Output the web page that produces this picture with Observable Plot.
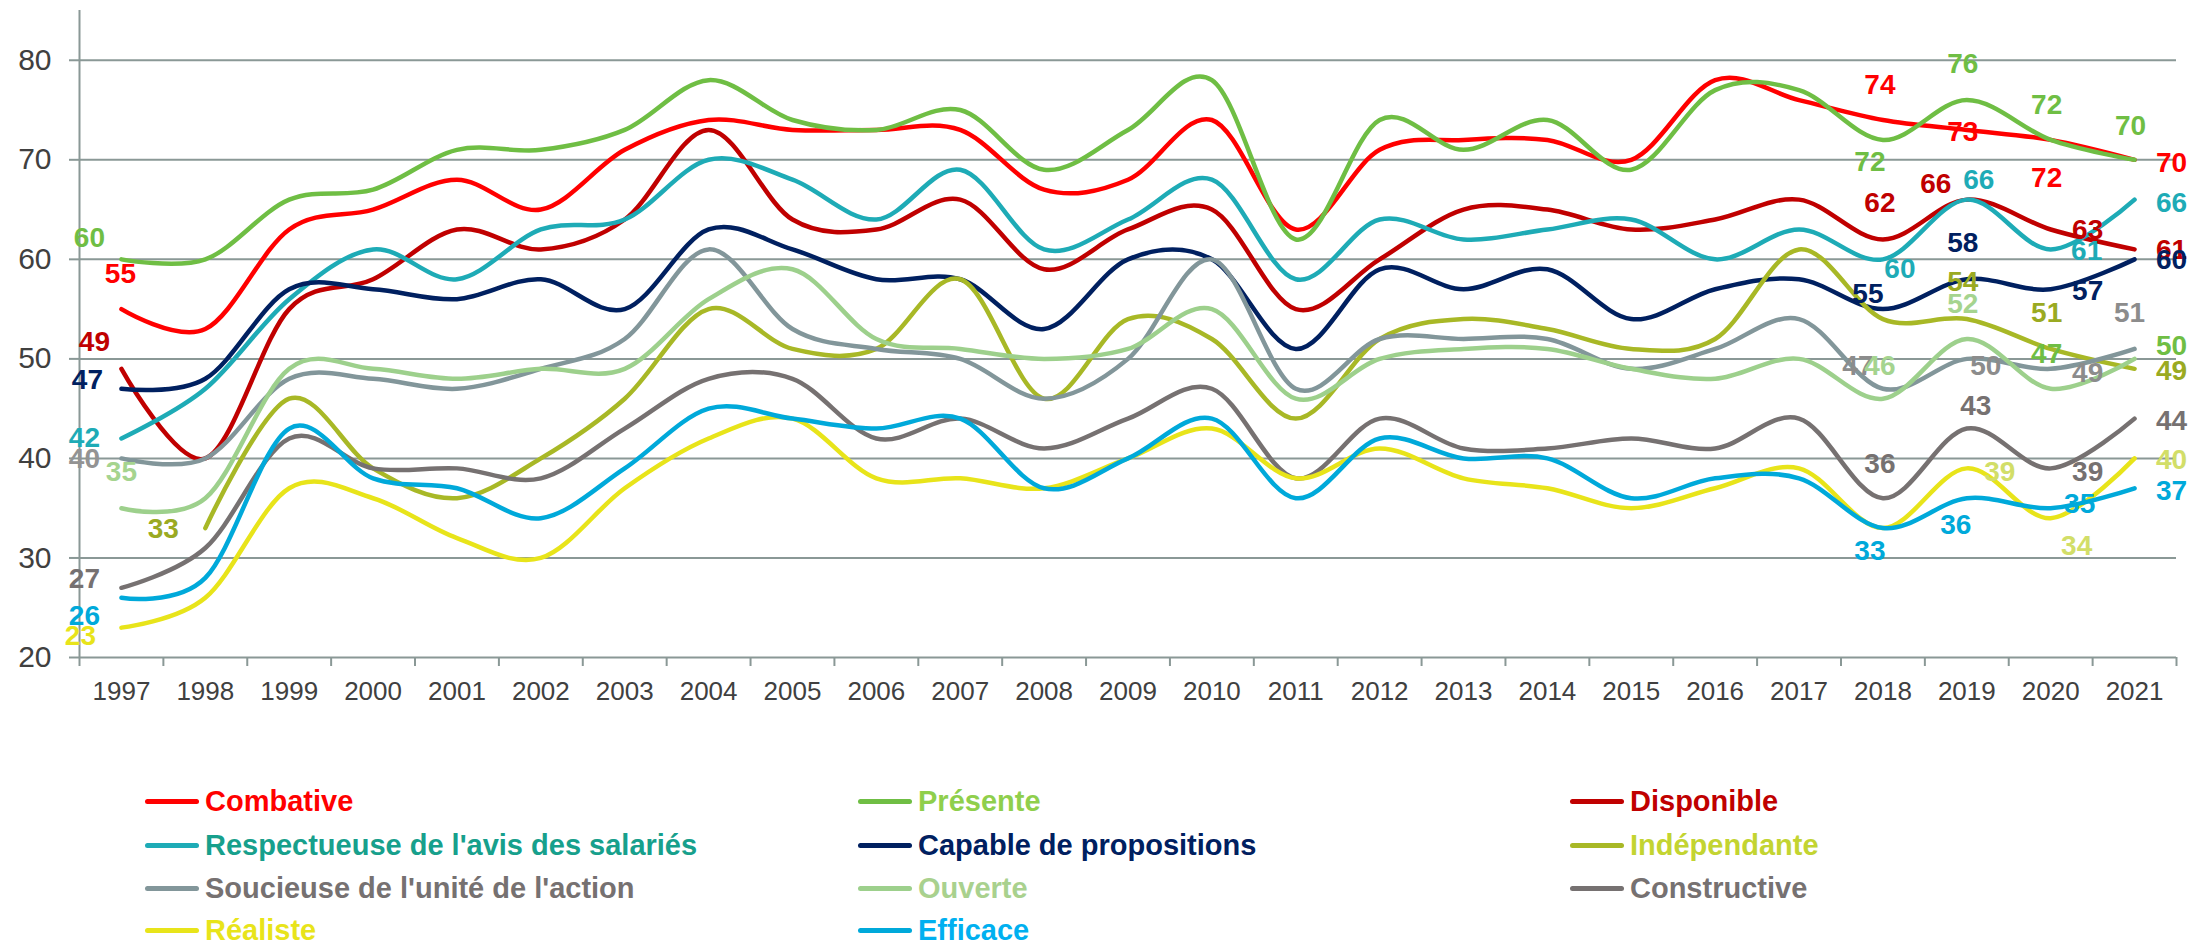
<!DOCTYPE html>
<html>
<head>
<meta charset="utf-8">
<script src="https://cdn.jsdelivr.net/npm/d3@7"></script>
<script src="https://cdn.jsdelivr.net/npm/@observablehq/plot@0.6"></script>
<style>
  html, body { margin: 0; padding: 0; background: #fff; }
  #wrap { position: relative; width: 2192px; height: 943px; font-family: "Liberation Sans", Arial, sans-serif; }
  #legend { position: absolute; left: 0; top: 760px; width: 2192px; height: 183px; }
  .item { position: absolute; height: 42px; display: flex; align-items: center; font-weight: bold; font-size: 29px; white-space: nowrap; }
  .sw { width: 54px; height: 5px; border-radius: 3px; margin-right: 6px; }
</style>
</head>
<body>
<div id="wrap"><div id="chart"></div><div id="legend"></div></div>
<script>
// ---- data ----
const years = d3.range(1997, 2022);
const yTicks = [20, 30, 40, 50, 60, 70, 80];

const Combative    = [55,53,63,65,68,65,71,74,73,73,73,67,68,74,63,71,72,72,70,78,76,74,73,72,70];
const Presente     = [60,60,66,67,71,71,73,78,74,73,75,69,73,78,62,74,71,74,69,77,77,72,76,72,70];
const Disponible   = [49,40,55,58,63,61,64,73,64,63,66,59,63,65,55,60,65,65,63,64,66,62,66,63,61];
const Respectueuse = [42,47,56,61,58,63,64,70,68,64,69,61,64,68,58,64,62,63,64,60,63,60,66,61,66];
const Capable      = [47,48,57,57,56,58,55,63,61,58,58,53,60,60,51,59,57,59,54,57,58,55,58,57,60];
const Independante = [null,33,46,39,36,40,46,55,51,51,58,46,54,52,44,52,54,53,51,52,61,54,54,51,49];
const Soucieuse    = [40,40,48,48,47,49,52,61,53,51,50,46,50,60,47,52,52,52,49,51,54,47,50,49,51];
const Ouverte      = [35,36,49,49,48,49,49,56,59,52,51,50,51,55,46,50,51,51,49,48,50,46,52,47,50];
const Constructive = [27,31,42,39,39,38,43,48,48,42,44,41,44,47,38,44,41,41,42,41,44,36,43,39,44];
const Realiste     = [23,26,37,36,32,30,37,42,44,38,38,37,40,43,38,41,38,37,35,37,39,33,39,34,40];
const Efficace     = [26,28,43,38,37,34,39,45,44,43,44,37,40,44,36,42,40,40,36,38,38,33,36,35,37];

const seriesNames = ["Combative","Présente","Disponible","Respectueuse de l'avis des salariés","Capable de propositions","Indépendante","Soucieuse de l'unité de l'action","Ouverte","Constructive","Réaliste","Efficace"];
const seriesValues = [Combative,Presente,Disponible,Respectueuse,Capable,Independante,Soucieuse,Ouverte,Constructive,Realiste,Efficace];

// ---- styles ----
const lineColors = ["#FF0000","#6FBE44","#C00000","#1EABB6","#002060","#A8B826","#82969A","#9DD08C","#767171","#E8E41A","#00A9DA"];
const legendTextColors = ["#FF0000","#8FCF4C","#C00000","#17A08C","#002060","#C3D431","#767171","#A9D18E","#767171","#E8E41A","#00B0F0"];
const gridColor = "#8A9896";

// labelled points: [series index, year] and layout offsets/colors (pixels)
const labelLayout = [
  [1,1997,-32,-21,null],[0,1997,-1,-35,null],[2,1997,-27,-27,null],[4,1997,-34,-9,null],
  [3,1997,-37,0,null],[6,1997,-37,1,"#939393"],[7,1997,0,-36,"#A5D48F"],[5,1998,-42,1,"#9AAA22"],
  [8,1997,-37,-9,null],[10,1997,-37,18,null],[9,1997,-41,8,null],
  // 2018
  [0,2018,-3,-35,null],[1,2018,-13,22,null],[2,2018,-3,-36,null],[3,2018,17,10,null],
  [4,2018,-15,-15,null],[6,2018,-25,-23,"#8C8C8C"],[7,2018,-3,-33,"#A5D48F"],[8,2018,-3,-34,null],[10,2018,-13,23,null],
  // 2019
  [1,2019,-4,-36,null],[0,2019,-4,2,null],[2,2019,-31,-16,null],[3,2019,12,-20,null],
  [4,2019,-4,-36,null],[5,2019,-4,-37,"#9AAA22"],[7,2019,-4,-35,"#A5D48F"],[6,2019,19,7,"#8C8C8C"],
  [8,2019,9,-23,null],[9,2019,33,4,"#D2DE68"],[10,2019,-11,27,null],
  // 2020
  [1,2020,-4,-35,null],[0,2020,-4,38,null],[2,2020,37,1,null],[3,2020,36,2,null],
  [4,2020,37,2,null],[5,2020,-4,-36,"#9AAA22"],[7,2020,-4,-35,"#6FBE44"],[6,2020,37,4,"#8C8C8C"],
  [8,2020,37,4,null],[9,2020,26,28,"#D2DE68"],[10,2020,29,-4,null],
  // 2021
  [1,2021,-4,-34,null],[0,2021,37,3,null],[3,2021,37,3,null],[2,2021,37,1,null],
  [4,2021,37,1,null],[6,2021,-5,-36,"#8C8C8C"],[7,2021,37,-13,"#6FBE44"],[5,2021,37,2,"#9AAA22"],
  [8,2021,37,2,null],[9,2021,37,2,"#D2DE68"],[10,2021,37,3,null]
];

// ---- build ----
const lineMarks = seriesValues.map((vals, i) => {
  const rows = years.map((y, j) => ({year: y, value: vals[j]})).filter(d => d.value != null);
  return Plot.line(rows, {x: "year", y: "value", stroke: lineColors[i], strokeWidth: 4.5,
    strokeLinecap: "round", strokeLinejoin: "round", curve: d3.curveCardinal.tension(0)});
});

const labelMarks = labelLayout.map(([si, yr, dx, dy, col]) => {
  const v = seriesValues[si][yr - 1997];
  return Plot.text([{year: yr, value: v}], {x: "year", y: "value", text: d => String(d.value),
    dx, dy, fill: col || lineColors[si], fontSize: 28, fontWeight: "bold"});
});

const boundaries = d3.range(26).map(i => 1996.5 + i);

const chart = Plot.plot({
  width: 2192, height: 760,
  marginLeft: 79, marginRight: 16, marginTop: 10, marginBottom: 103,
  style: {fontFamily: "'Liberation Sans', Arial, sans-serif", background: "#fff", overflow: "visible"},
  x: {type: "linear", domain: [1996.5, 2021.5], label: null},
  y: {domain: [20, 85], label: null},
  marks: [
    Plot.ruleY(yTicks, {stroke: gridColor, strokeWidth: 2}),
    Plot.ruleX([1996.5], {y1: 20, y2: 85, stroke: gridColor, strokeWidth: 2}),
    Plot.axisY({ticks: yTicks, label: null, tickSize: 10, tickPadding: 18, fontSize: 30, fill: "#404040", stroke: gridColor, strokeWidth: 2, tickFormat: d => String(d)}),
    Plot.axisX({ticks: boundaries, label: null, tickSize: 9, tickFormat: () => "", stroke: gridColor, strokeWidth: 2}),
    Plot.axisX({ticks: years, label: null, tickSize: 0, tickPadding: 24, fontSize: 26, fill: "#404040", tickFormat: d => String(d)}),
    ...lineMarks,
    ...labelMarks
  ]
});
document.getElementById("chart").appendChild(chart);

// ---- legend ----
const colX = [145, 858, 1570];
const rowY = [41, 85, 128, 170];
const legend = document.getElementById("legend");
seriesNames.forEach((name, i) => {
  const col = i % 3, row = Math.floor(i / 3);
  const it = document.createElement("div");
  it.className = "item";
  it.style.left = colX[col] + "px";
  it.style.top = (rowY[row] - 21) + "px";
  const sw = document.createElement("div");
  sw.className = "sw";
  sw.style.background = lineColors[i];
  const tx = document.createElement("span");
  tx.textContent = name;
  tx.style.color = legendTextColors[i];
  it.appendChild(sw); it.appendChild(tx);
  legend.appendChild(it);
});
</script>
</body>
</html>
